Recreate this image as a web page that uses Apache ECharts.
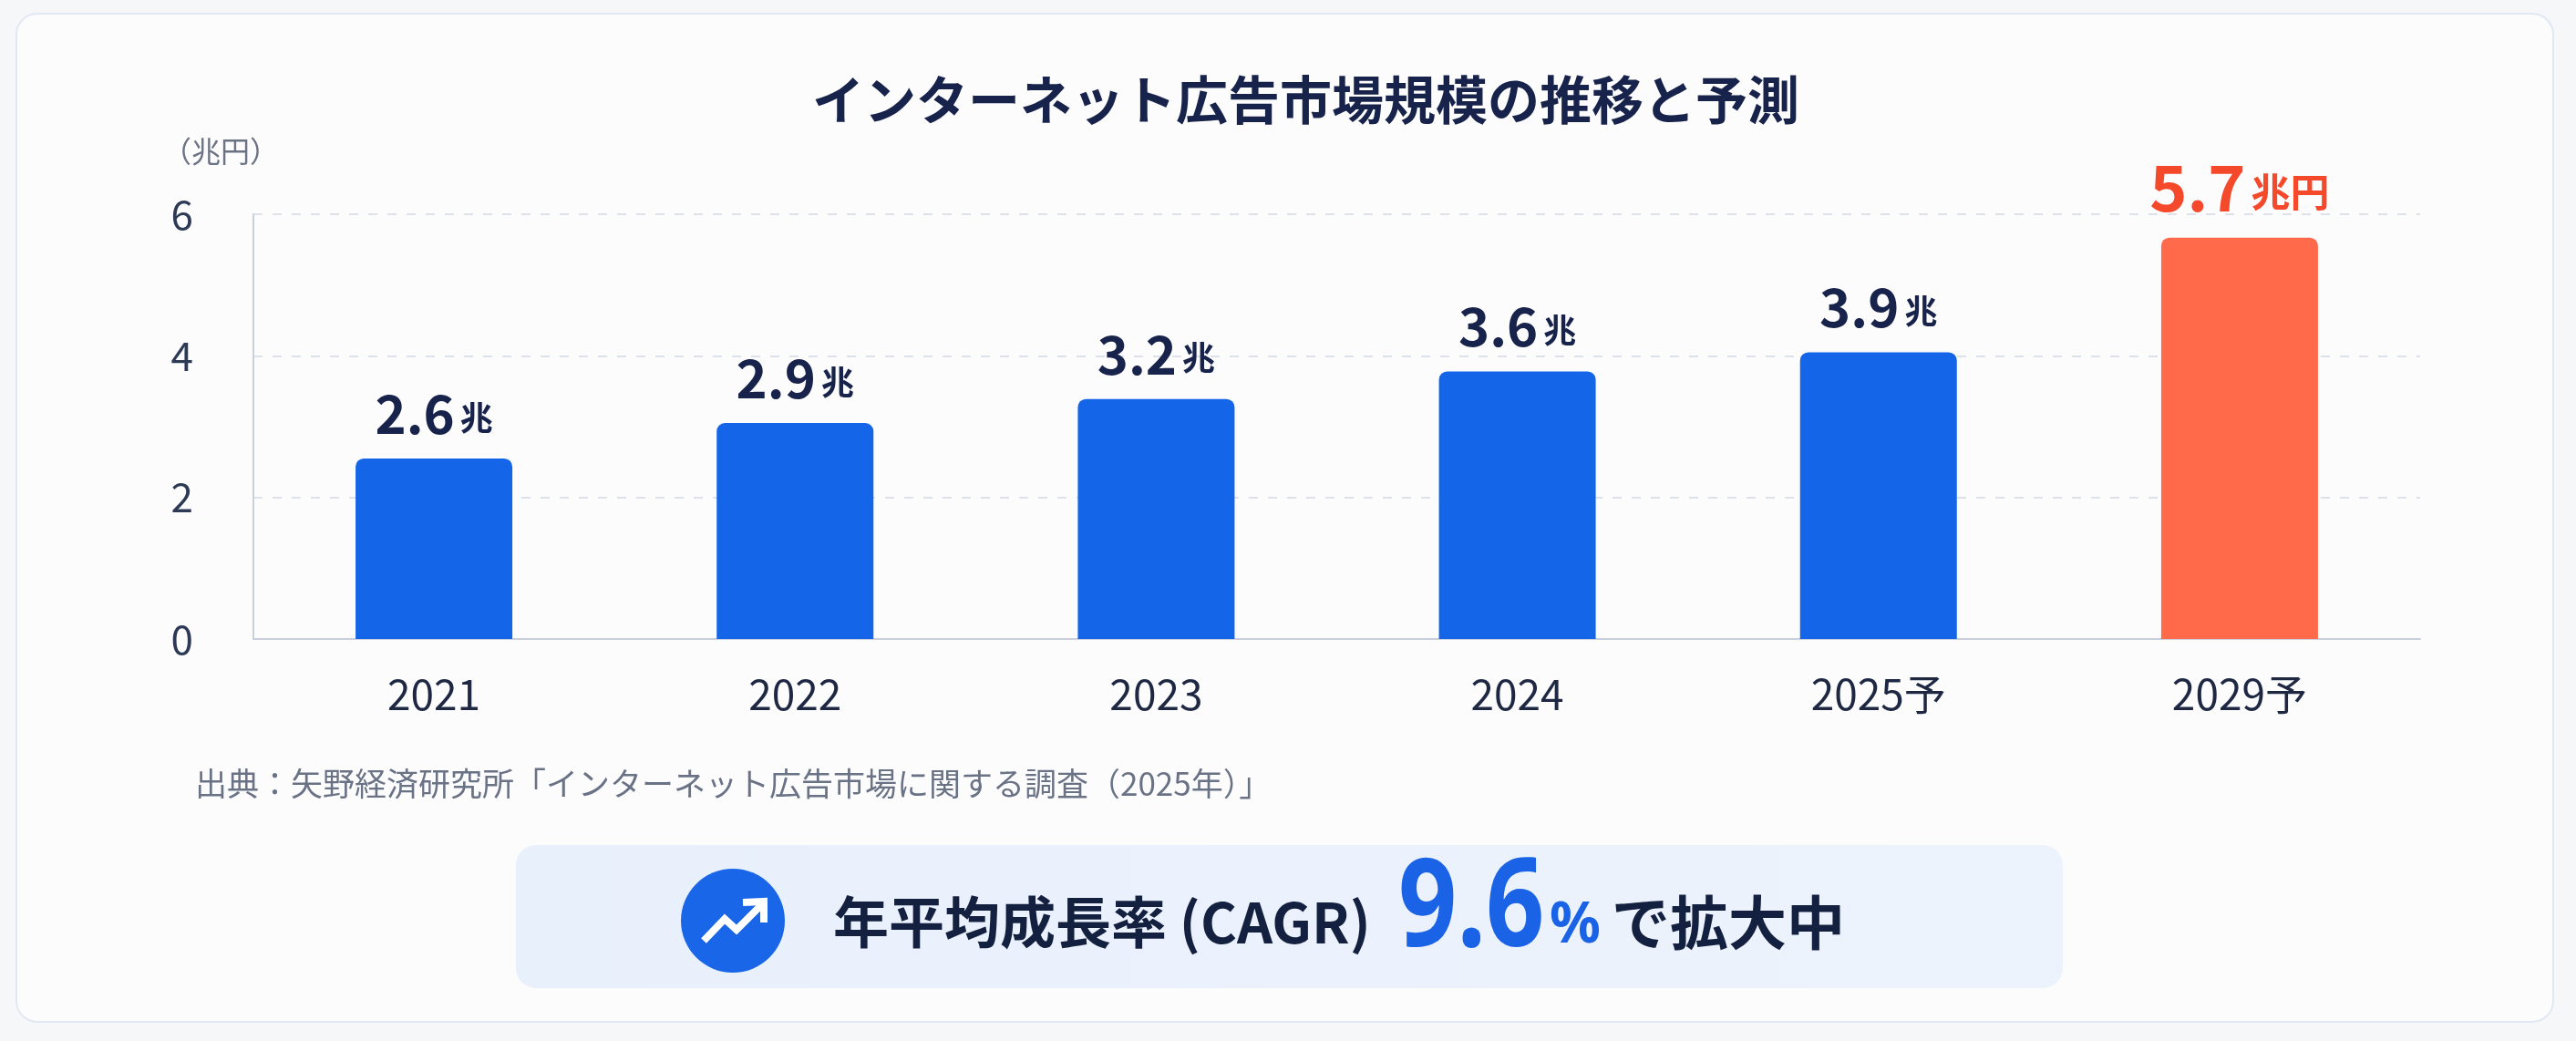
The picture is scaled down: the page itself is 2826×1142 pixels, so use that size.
<!DOCTYPE html>
<html>
<head>
<meta charset="utf-8">
<script src="https://cdn.jsdelivr.net/npm/echarts@6/dist/echarts.min.js"></script>
<style>
  html, body { margin: 0; padding: 0; background: #f6f7f9; }
  #card {
    position: absolute; left: 17px; top: 14px; width: 2781px; height: 1104px;
    background: #fcfcfd; border: 2px solid #e2e8f3; border-radius: 24px;
  }
  #chart { position: absolute; left: 0; top: 0; width: 2826px; height: 1142px; }
</style>
</head>
<body>
<div id="card"></div>
<div id="chart"></div>
<script>
var years = ['2021', '2022', '2023', '2024', '2025予', '2029予'];
// bar heights as drawn (兆円)
var marketSize = [2.55, 3.05, 3.39, 3.78, 4.05, 5.67];
// value labels printed above bars
var valueText = ['2.6', '2.9', '3.2', '3.6', '3.9', '5.7'];
var unitText = ['兆', '兆', '兆', '兆', '兆', '兆円'];
var yTicks = [0, 2, 4, 6];
var cagrText = '9.6';

var FONT = '"Noto Sans CJK JP", "Noto Sans", sans-serif';
var BLUE = '#1565e9';
var ORANGE = '#ff6a4b';
var last = years.length - 1;

var myChart = echarts.init(document.getElementById('chart'));

var barData = marketSize.map(function (v, i) {
    var hot = i === last;
    return {
        value: v,
        itemStyle: { color: hot ? ORANGE : BLUE },
        label: {
            formatter: hot ? '{hn|' + valueText[i] + '}{hu|' + unitText[i] + '}'
                           : '{n|' + valueText[i] + '}{u|' + unitText[i] + '}'
        }
    };
});

var option = {
    title: {
        text: 'インターネット広告市場規模の推移と予測',
        left: 886,
        top: 76,
        textStyle: { fontFamily: FONT, fontSize: 57, fontWeight: 'bold', color: '#17234a' }
    },
    grid: {
        left: 278,
        right: 171,
        top: 235,
        bottom: 441,
        containLabel: false
    },
    xAxis: {
        type: 'category',
        data: years,
        axisTick: { show: false },
        axisLine: { lineStyle: { color: '#c9d0dc', width: 2 } },
        axisLabel: {
            margin: 38,
            fontFamily: FONT,
            fontSize: 46,
            color: '#1e2842'
        }
    },
    yAxis: {
        type: 'value',
        min: yTicks[0],
        max: yTicks[yTicks.length - 1],
        interval: 2,
        axisLine: { show: true, lineStyle: { color: '#c9d0dc', width: 2 } },
        axisTick: { show: false },
        splitLine: {
            lineStyle: { type: [10, 11], color: '#dde2ea', width: 2 }
        },
        axisLabel: {
            margin: 66,
            fontFamily: FONT,
            fontSize: 44,
            color: '#2d3a55'
        }
    },
    series: [
        {
            type: 'bar',
            barWidth: 172,
            data: barData,
            itemStyle: { borderRadius: [9, 9, 0, 0] },
            label: {
                show: true,
                position: 'top',
                distance: 20,
                rich: {
                    n: { fontFamily: FONT, fontSize: 58, fontWeight: 'bold', color: '#17234a' },
                    u: { fontFamily: FONT, fontSize: 36, fontWeight: 'bold', color: '#17234a', padding: [8, 0, 0, 6] },
                    hn: { fontFamily: FONT, fontSize: 70, fontWeight: 'bold', color: '#f5492c' },
                    hu: { fontFamily: FONT, fontSize: 43, fontWeight: 'bold', color: '#f5492c', padding: [10, 0, 0, 6] }
                }
            }
        }
    ],
    graphic: [
        {
            type: 'text',
            left: 178,
            top: 150,
            style: { text: '（兆円）', fontFamily: FONT, fontSize: 32, fill: '#6b7385' }
        },
        {
            type: 'text',
            left: 214,
            top: 842,
            style: {
                text: '出典：矢野経済研究所「インターネット広告市場に関する調査（2025年）」',
                fontFamily: FONT, fontSize: 35, fill: '#6a7386'
            }
        },
        {
            type: 'rect',
            shape: { x: 566, y: 927, width: 1697, height: 157, r: 22 },
            style: {
                fill: new echarts.graphic.LinearGradient(0, 0, 1, 0, [
                    { offset: 0, color: '#e8f0fc' },
                    { offset: 1, color: '#edf3fc' }
                ])
            }
        },
        {
            type: 'circle',
            shape: { cx: 804, cy: 1010, r: 57 },
            style: { fill: '#1a66e8' }
        },
        {
            type: 'polyline',
            shape: { points: [[772, 1032], [795, 1008], [808, 1020], [836, 992]] },
            style: { stroke: '#fff', lineWidth: 8, fill: null, lineJoin: 'miter' }
        },
        {
            type: 'polyline',
            shape: { points: [[815, 990], [838, 989], [838, 1012]] },
            style: { stroke: '#fff', lineWidth: 8, fill: null, lineJoin: 'miter' }
        },
        {
            type: 'text',
            x: 914,
            y: 1012,
            style: {
                text: '年平均成長率 (CAGR)',
                fontFamily: FONT, fontSize: 61, fontWeight: 'bold', fill: '#14203f',
                verticalAlign: 'middle'
            }
        },
        {
            type: 'text',
            x: 1534,
            y: 1000,
            scaleX: 0.84,
            style: {
                text: cagrText,
                fontFamily: '"Noto Sans", Roboto, sans-serif', fontSize: 134, fontWeight: 'bold', fill: '#1a63e6',
                verticalAlign: 'middle'
            }
        },
        {
            type: 'text',
            x: 1700,
            y: 1016,
            style: {
                text: '%',
                fontFamily: '"Noto Sans", Roboto, sans-serif', fontSize: 62, fontWeight: 'bold', fill: '#1a63e6',
                verticalAlign: 'middle'
            }
        },
        {
            type: 'text',
            x: 1768,
            y: 1012,
            style: {
                text: 'で拡大中',
                fontFamily: FONT, fontSize: 64, fontWeight: 'bold', fill: '#14203f',
                verticalAlign: 'middle'
            }
        }
    ]
};

myChart.setOption(option);
</script>
</body>
</html>
